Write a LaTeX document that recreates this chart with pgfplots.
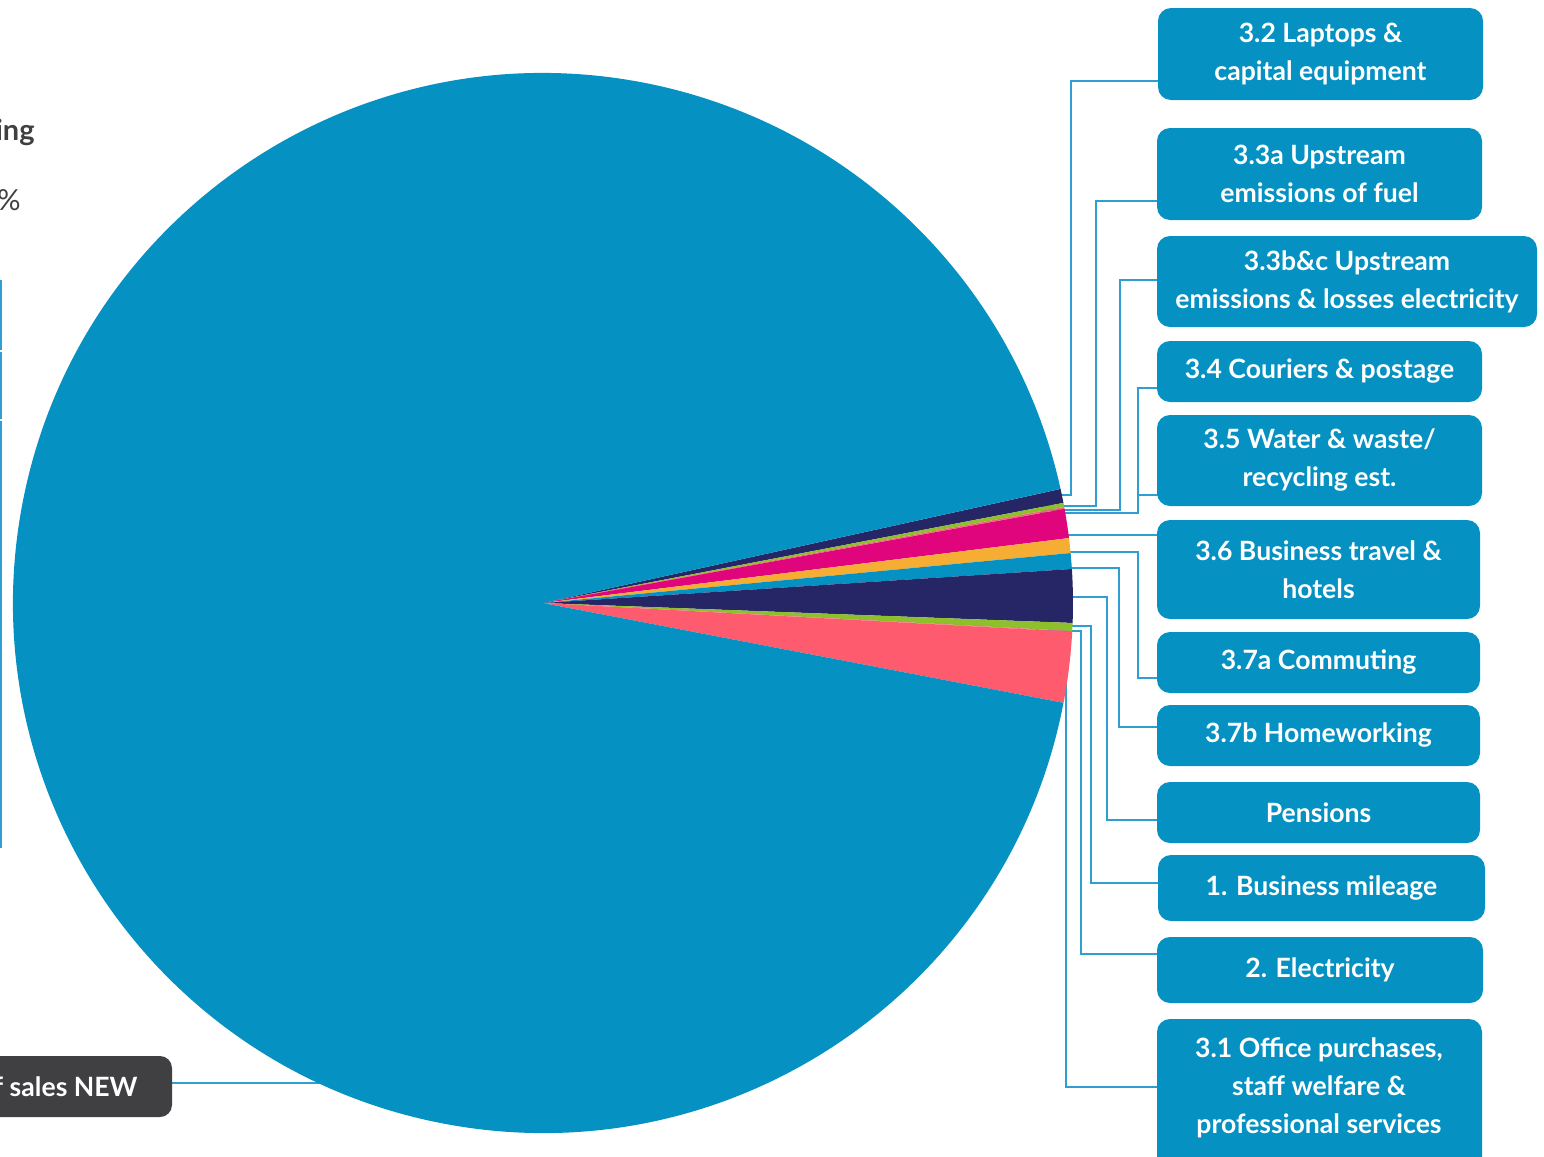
\documentclass[border=0pt]{standalone}
\usepackage{pgfplots}
\usepackage{pgfplotstable}
\pgfplotsset{compat=1.18}
\usepackage{fontspec}
\setmainfont{Lato}

\definecolor{cblue}{HTML}{0591C2}
\definecolor{cnavy}{HTML}{262566}
\definecolor{cgreen}{HTML}{8DC02B}
\definecolor{cpink}{HTML}{F26B7A}
\definecolor{cmagenta}{HTML}{E0047D}
\definecolor{corange}{HTML}{F5AE33}
\definecolor{ccoral}{HTML}{FF5B6E}
\definecolor{cline}{HTML}{2F9FD3}
\definecolor{cdark}{HTML}{404042}
\definecolor{cgray}{HTML}{404040}

% share of total emissions (%), clockwise from the top of the small slices
\pgfplotstableread{
name value col
Laptops 0.428 cnavy
Fuel 0.125 cgreen
ElecUp 0.045 cpink
Couriers 0.008 cmagenta
Water 0.008 corange
Travel 0.886 cmagenta
Commuting 0.453 corange
Homeworking 0.481 cblue
Pensions 1.622 cnavy
Mileage 0.242 cgreen
Electricity 0.020 cpink
Office 2.153 ccoral
CostOfSales 93.549 cblue
}\piedata

\pgfplotstablegetrowsof{\piedata}
\pgfmathtruncatemacro\lastrow{\pgfplotsretval-1}
\def\total{0}
\pgfplotsforeachungrouped \i in {0,...,\lastrow}{%
  \pgfplotstablegetelem{\i}{value}\of\piedata
  \pgfmathsetmacro\total{\total+\pgfplotsretval}%
}
\def\cur{12.43}
\pgfplotsforeachungrouped \i in {0,...,\lastrow}{%
  \pgfplotstablegetelem{\i}{value}\of\piedata
  \pgfmathsetmacro\nxt{\cur-(\pgfplotsretval/\total)*360}%
  \expandafter\xdef\csname sa\i\endcsname{\cur}%
  \expandafter\xdef\csname sb\i\endcsname{\nxt}%
  \pgfplotstablegetelem{\i}{col}\of\piedata
  \expandafter\xdef\csname sc\i\endcsname{\pgfplotsretval}%
  \let\cur\nxt
}

\newcommand{\boxfont}{\fontsize{13.3}{19}\selectfont\bfseries}
\newcommand{\lbox}[5]{%
  \fill[cblue, rounded corners=6.5pt] (axis cs:#1,#3) rectangle (axis cs:#2,#4);
  \node[text=white, align=center, font=\boxfont, inner sep=0pt]
    at (axis cs:{(#1+#2)/2},{(#3+#4)/2}) {#5};
}

\begin{document}
\begin{tikzpicture}
\clip (0,0) rectangle (772pt,578.5pt);
\begin{axis}[at={(0,0)}, anchor=south west, width=772pt, height=578.5pt,
  scale only axis, xmin=0, xmax=1544, ymin=0, ymax=1157, y dir=reverse,
  hide axis, clip=false]

% connectors
\draw[cline, line width=0.8pt]
  (axis cs:1158,81) -- (axis cs:1071,81) -- (axis cs:1071,495) -- (axis cs:1040,495)
  (axis cs:1158,201) -- (axis cs:1096,201) -- (axis cs:1096,506) -- (axis cs:1040,506)
  (axis cs:1158,280) -- (axis cs:1120,280) -- (axis cs:1120,510) -- (axis cs:1040,510)
  (axis cs:1158,388) -- (axis cs:1138,388) -- (axis cs:1138,513) -- (axis cs:1040,513)
  (axis cs:1158,495) -- (axis cs:1138,495)
  (axis cs:1158,535) -- (axis cs:1040,535)
  (axis cs:1040,552) -- (axis cs:1138,552) -- (axis cs:1138,678) -- (axis cs:1158,678)
  (axis cs:1040,568) -- (axis cs:1119,568) -- (axis cs:1119,727) -- (axis cs:1158,727)
  (axis cs:1040,597) -- (axis cs:1107,597) -- (axis cs:1107,820) -- (axis cs:1158,820)
  (axis cs:1040,626) -- (axis cs:1091,626) -- (axis cs:1091,883) -- (axis cs:1158,883)
  (axis cs:1040,631) -- (axis cs:1081,631) -- (axis cs:1081,954) -- (axis cs:1158,954)
  (axis cs:1040,640) -- (axis cs:1066,640) -- (axis cs:1066,1087) -- (axis cs:1158,1087)
  (axis cs:172,1083) -- (axis cs:340,1083);
\draw[cline, line width=1pt]
  (axis cs:1,280) -- (axis cs:1,350)
  (axis cs:1,352) -- (axis cs:1,419)
  (axis cs:1,421) -- (axis cs:1,848);

% pie slices
\pgfplotsinvokeforeach{0,...,12}{
  \fill[\csname sc#1\endcsname] (axis cs:543,603) -- +(\csname sa#1\endcsname:265pt)
    arc[start angle=\csname sa#1\endcsname, end angle=\csname sb#1\endcsname, radius=265pt] -- cycle;
}

% labels
\lbox{1158}{1483}{8}{100}{3.2 Laptops \&\\capital equipment}
\lbox{1157}{1482}{128}{220}{3.3a Upstream\\emissions of fuel}
\lbox{1157}{1537}{236}{327}{3.3b\&c Upstream\\emissions \& losses electricity}
\lbox{1157}{1482}{341}{402}{3.4 Couriers \& postage}
\lbox{1157}{1482}{415}{506}{3.5 Water \& waste/\\recycling est.}
\lbox{1157}{1480}{520}{619}{3.6 Business travel \&\\hotels}
\lbox{1157}{1480}{632}{693}{3.7a Commuting}
\lbox{1157}{1480}{705}{766}{3.7b Homeworking}
\lbox{1157}{1480}{782}{843}{Pensions}
\lbox{1158}{1485}{855}{921}{1. Business mileage}
\lbox{1157}{1483}{937}{1003}{2. Electricity}
\fill[cblue, rounded corners=6.5pt] (axis cs:1157,1019) rectangle (axis cs:1482,1190);
\node[text=white, align=center, font=\boxfont, inner sep=0pt]
  at (axis cs:1319,1088) {3.1 Office purchases,\\staff welfare \&\\professional services};

% left, cut-off texts
\node[anchor=east, text=cgray, font=\fontsize{14.5}{17}\selectfont\bfseries, inner sep=0pt]
  at (axis cs:35,132) {ing};
\node[anchor=east, text=cgray, font=\fontsize{14.5}{17}\selectfont, inner sep=0pt]
  at (axis cs:21,200) {\%};
\fill[cdark, rounded corners=6pt] (axis cs:-30,1056) rectangle (axis cs:172,1117);
\node[anchor=east, text=white, font=\fontsize{13.3}{16}\selectfont\bfseries, inner sep=0pt]
  at (axis cs:138,1087) {f sales NEW};
\end{axis}
\end{tikzpicture}
\end{document}
